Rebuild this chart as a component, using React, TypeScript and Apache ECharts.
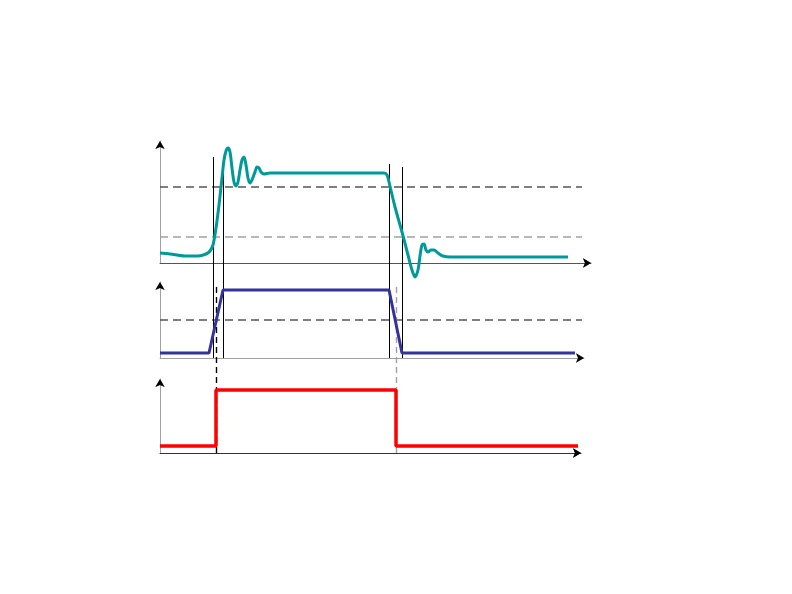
import React, { useEffect, useRef } from "react";
import * as echarts from "echarts";

// Output signal (top panel): [time, level]
const outputSignal: [number, number][] = [
  [0, 10], [10, 9], [25, 7], [38, 7], [46, 9], [50, 12], [53, 18], [56, 35], [59, 58],
  [62, 85], [64, 103], [66, 112], [68, 115], [70, 111], [72, 95], [74, 81], [76, 77],
  [78, 81], [80, 93], [82, 103], [84, 106], [86, 98], [88, 85], [90, 80], [92, 83],
  [95, 91], [97, 96], [99, 95], [101, 91], [104, 89], [110, 90], [224, 90], [227, 88],
  [229, 81], [235, 56], [242, 31], [248, 8], [252, -7], [255, -14], [258, -7], [260, 7],
  [262, 18], [264, 19], [266, 13], [268, 11], [271, 13], [274, 13], [278, 10], [283, 7],
  [290, 6], [408, 6],
];
// Input ramp (middle panel)
const inputSignal: [number, number][] = [
  [0, 5], [49, 5], [63, 68], [229, 68], [242, 5], [415, 5],
];
// Logic output (bottom panel)
const logicSignal: [number, number][] = [
  [0, 7], [56, 7], [56, 63], [236, 63], [236, 7], [418, 7],
];
// Thresholds
const topUpperThreshold = 76;
const topLowerThreshold = 26;
const midThreshold = 38;
const thresholdEnd = 422;
// Event markers on the overlay scale: [time, yStart, yEnd]
const solidMarkers: [number, number, number][] = [
  [53.5, 296, 95], [63.5, 296, 95], [229.5, 289, 95], [242.5, 286, 95],
];
const dashedBlackMarker: [number, number, number] = [56.5, 166, 0];
const dashedGrayMarker: [number, number, number] = [236.5, 166, 0];

const axisArrow = (color: string, width: number) => ({
  show: true,
  symbol: ["none", "arrow"],
  symbolSize: [7, 8],
  lineStyle: { color, width },
});

export default function App() {
  const ref = useRef<HTMLDivElement>(null);
  useEffect(() => {
    if (!ref.current) return;
    const chart = echarts.init(ref.current, null, { renderer: "svg" });
    const grids = [
      { left: 160, top: 141, width: 431, height: 122 },
      { left: 160, top: 282, width: 424, height: 76 },
      { left: 160, top: 379, width: 421, height: 74 },
      { left: 160, top: 137, width: 431, height: 316 },
    ];
    const xColors = ["#555", "#a0a0a0", "#333"];
    const base = {
      type: "value",
      min: 0,
      axisTick: { show: false },
      axisLabel: { show: false },
      splitLine: { show: false },
    };
    const xAxis: any[] = grids.map((g, i) => ({
      ...base,
      gridIndex: i,
      max: g.width,
      position: "bottom",
      show: i < 3,
      axisLine: axisArrow(xColors[i] || "#000", 1),
    }));
    const yAxis: any[] = grids.map((g, i) => ({
      ...base,
      gridIndex: i,
      max: g.height,
      position: "left",
      show: i < 3,
      axisLine: axisArrow("#a0a0a0", 1),
    }));
    // black arrowheads drawn by duplicate axes whose lines are invisible
    for (let i = 0; i < 3; i++) {
      xAxis.push({
        ...base,
        gridIndex: i,
        max: grids[i].width,
        position: "bottom",
        offset: 0,
        axisLine: { ...axisArrow("#000", 0), onZero: false },
      });
      yAxis.push({
        ...base,
        gridIndex: i,
        max: grids[i].height,
        position: "left",
        offset: 0,
        axisLine: { ...axisArrow("#000", 0), onZero: false },
      });
    }
    const hLine = (grid: number, y: number, color: string) => ({
      type: "line",
      xAxisIndex: grid,
      yAxisIndex: grid,
      data: [[0, y], [thresholdEnd, y]],
      symbol: "none",
      lineStyle: { color, width: 1.5, type: [8, 5] },
      z: 1,
    });
    const vLine = (m: [number, number, number], color: string, dashed: boolean) => ({
      type: "line",
      xAxisIndex: 3,
      yAxisIndex: 3,
      data: [[m[0], m[1]], [m[0], m[2]]],
      symbol: "none",
      lineStyle: { color, width: dashed ? 1.4 : 1, type: dashed ? [6, 4] : "solid" },
      z: 1,
    });
    const series: any[] = [
      hLine(0, topUpperThreshold, "#555"),
      hLine(0, topLowerThreshold, "#a0a0a0"),
      hLine(1, midThreshold, "#555"),
      ...solidMarkers.map((m) => vLine(m, "#000", false)),
      vLine(dashedBlackMarker, "#000", true),
      vLine(dashedGrayMarker, "#a0a0a0", true),
      {
        type: "line",
        xAxisIndex: 0,
        yAxisIndex: 0,
        data: outputSignal,
        symbol: "none",
        smooth: 0.3,
        clip: false,
        lineStyle: { color: "#009999", width: 3 },
        z: 3,
      },
      {
        type: "line",
        xAxisIndex: 1,
        yAxisIndex: 1,
        data: inputSignal,
        symbol: "none",
        lineStyle: { color: "#333399", width: 3 },
        z: 3,
      },
      {
        type: "line",
        xAxisIndex: 2,
        yAxisIndex: 2,
        data: logicSignal,
        symbol: "none",
        lineStyle: { color: "#ff0000", width: 3.5 },
        z: 3,
      },
    ];
    chart.setOption({
      animation: false,
      backgroundColor: "#fff",
      grid: grids,
      xAxis,
      yAxis,
      series,
    });
    return () => chart.dispose();
  }, []);
  return (
    <div
      ref={ref}
      style={{ position: "fixed", left: 0, top: 0, width: 792, height: 594 }}
    />
  );
}
